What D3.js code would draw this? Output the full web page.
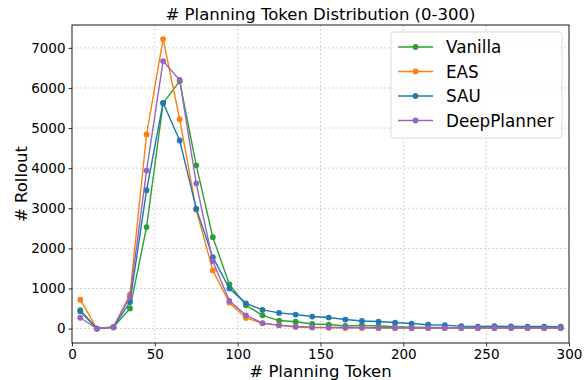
<!DOCTYPE html>
<html>
<head>
<meta charset="utf-8">
<script src="https://cdn.jsdelivr.net/npm/d3@7"></script>
<style>
body { margin: 0; background: #fff; }
text { font-family: "DejaVu Sans", sans-serif; }
</style>
</head>
<body>
<div id="chart"></div>
<script>
// bin centres
var bins = [5,15,25,35,45,55,65,75,85,95,105,115,125,135,145,155,165,175,185,195,205,215,225,235,245,255,265,275,285,295];

var vanilla = [460,0,30,500,2530,5620,6170,4070,2280,1100,580,330,200,170,115,100,65,80,65,45,35,30,25,20,20,20,15,15,15,15];
var eas = [720,0,40,850,4840,7220,5220,2960,1450,645,265,130,80,40,25,20,15,15,10,10,10,10,10,10,10,10,10,10,10,10];
var sau = [430,0,30,660,3450,5630,4690,2990,1780,1000,630,465,390,350,300,275,225,190,175,150,125,95,85,60,50,60,55,50,50,45];
var deepPlanner = [270,0,40,790,3940,6670,6200,3620,1680,690,330,135,85,50,35,30,25,25,20,20,15,15,15,15,15,15,15,15,15,15];

var seriesNames = ["Vanilla", "EAS", "SAU", "DeepPlanner"];
var seriesValues = [vanilla, eas, sau, deepPlanner];
var colors = ["#2ca02c", "#ff7f0e", "#1f77b4", "#9467bd"];

var xTicks = [0,50,100,150,200,250,300];
var yTicks = [0,1000,2000,3000,4000,5000,6000,7000];

var width = 587, height = 380;
var margin = {left: 72, right: 18, top: 25, bottom: 37};

var svg = d3.select("#chart").append("svg")
    .attr("width", width)
    .attr("height", height);

var x = d3.scaleLinear().domain([0, 300]).range([margin.left, width - margin.right]);
var y = d3.scaleLinear().domain([-360, 7570]).range([height - margin.bottom, margin.top]);

// grid
svg.append("g").selectAll("line").data(xTicks.slice(1, -1)).enter().append("line")
    .attr("x1", d => x(d)).attr("x2", d => x(d))
    .attr("y1", margin.top).attr("y2", height - margin.bottom)
    .attr("stroke", "#b0b0b0").attr("stroke-width", 0.8).attr("stroke-dasharray", "2,2").attr("opacity", 0.7);
svg.append("g").selectAll("line").data(yTicks).enter().append("line")
    .attr("x1", margin.left).attr("x2", width - margin.right)
    .attr("y1", d => y(d)).attr("y2", d => y(d))
    .attr("stroke", "#b0b0b0").attr("stroke-width", 0.8).attr("stroke-dasharray", "2,2").attr("opacity", 0.7);

// axes
var xAxis = svg.append("g")
    .attr("transform", "translate(0," + (height - margin.bottom) + ")")
    .call(d3.axisBottom(x).tickValues(xTicks).tickFormat(d3.format("d")).tickSize(3.5).tickPadding(2.5).tickSizeOuter(0));
var yAxis = svg.append("g")
    .attr("transform", "translate(" + margin.left + ",0)")
    .call(d3.axisLeft(y).tickValues(yTicks).tickFormat(d3.format("d")).tickSize(3.5).tickPadding(3).tickSizeOuter(0));
[xAxis, yAxis].forEach(function (a) {
    a.selectAll("text").attr("font-size", 13.5).attr("fill", "#000").style("font-family", "DejaVu Sans, sans-serif");
    a.selectAll("line").attr("stroke", "#000").attr("stroke-width", 0.8);
    a.select(".domain").remove();
});

// frame
svg.append("rect")
    .attr("x", margin.left).attr("y", margin.top)
    .attr("width", width - margin.left - margin.right)
    .attr("height", height - margin.top - margin.bottom)
    .attr("fill", "none").attr("stroke", "#000").attr("stroke-width", 0.9);

// series
var line = d3.line().x((d, i) => x(bins[i])).y(d => y(d));
seriesValues.forEach(function (vals, k) {
    var g = svg.append("g");
    g.append("path").datum(vals)
        .attr("d", line)
        .attr("fill", "none")
        .attr("stroke", colors[k])
        .attr("stroke-width", 1.4);
    g.selectAll("circle").data(vals).enter().append("circle")
        .attr("cx", (d, i) => x(bins[i]))
        .attr("cy", d => y(d))
        .attr("r", 2.9)
        .attr("fill", colors[k]);
});

// title and labels
svg.append("text")
    .attr("x", (margin.left + width - margin.right) / 2).attr("y", 20)
    .attr("text-anchor", "middle").attr("font-size", 16.5)
    .text("# Planning Token Distribution (0-300)");
svg.append("text")
    .attr("x", (margin.left + width - margin.right) / 2).attr("y", 377)
    .attr("text-anchor", "middle").attr("font-size", 16.5)
    .text("# Planning Token");
svg.append("text")
    .attr("transform", "translate(27," + ((margin.top + height - margin.bottom) / 2) + ") rotate(-90)")
    .attr("text-anchor", "middle").attr("font-size", 16.5)
    .text("# Rollout");

// legend
var lg = svg.append("g");
lg.append("rect")
    .attr("x", 391).attr("y", 32).attr("width", 171).attr("height", 106)
    .attr("rx", 3).attr("fill", "#fff").attr("fill-opacity", 0.8)
    .attr("stroke", "#d0d0d0").attr("stroke-width", 0.8);
seriesNames.forEach(function (name, k) {
    var ly = 47 + k * 24.5;
    lg.append("line").attr("x1", 398).attr("x2", 433).attr("y1", ly).attr("y2", ly)
        .attr("stroke", colors[k]).attr("stroke-width", 1.4);
    lg.append("circle").attr("cx", 415.5).attr("cy", ly).attr("r", 2.9).attr("fill", colors[k]);
    lg.append("text").attr("x", 446).attr("y", ly + 6).attr("font-size", 16.8).text(name);
});
</script>
</body>
</html>
